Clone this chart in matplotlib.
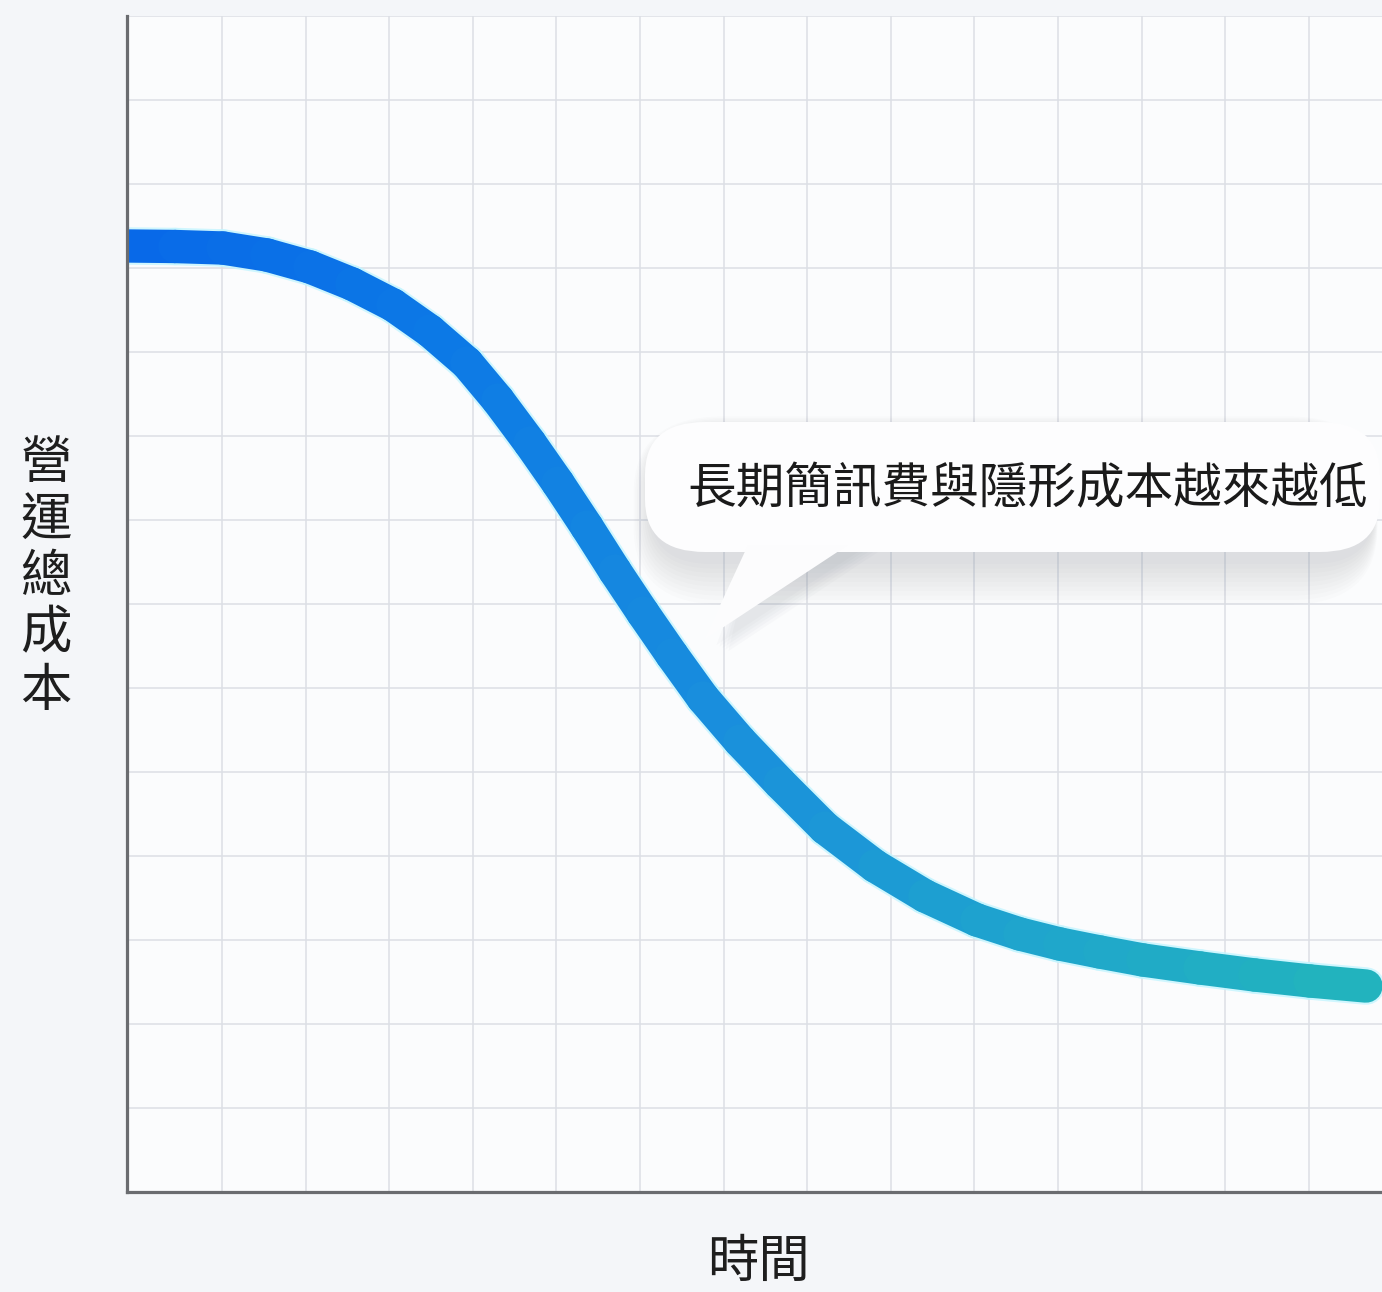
import numpy as np
import matplotlib
matplotlib.use("Agg")
import matplotlib.pyplot as plt
from matplotlib.collections import LineCollection
from matplotlib.colors import LinearSegmentedColormap
from matplotlib.patches import FancyBboxPatch, Polygon

plt.rcParams['font.family'] = ['Noto Sans CJK TC', 'DejaVu Sans']

# ---- data (grid units) ----
time_x = [-1.124, -0.562, 0.012, 0.538, 1.053, 1.555, 2.045, 2.488, 2.931, 3.301,
          3.684, 4.019, 4.366, 4.701, 5.036, 5.383, 5.754, 6.196, 6.675, 7.213,
          7.811, 8.409, 9.031, 9.545, 10.024, 10.502, 11.017, 11.699, 12.356,
          13.014, 13.684]
cost_y = [11.262, 11.256, 11.238, 11.155, 11.012, 10.810, 10.560, 10.250, 9.869, 9.429,
          8.917, 8.440, 7.917, 7.393, 6.893, 6.393, 5.881, 5.369, 4.869, 4.333,
          3.881, 3.524, 3.238, 3.071, 2.952, 2.857, 2.762, 2.667, 2.583,
          2.512, 2.452]
x_label = "時間"
y_label = "營運總成本"
callout_text = "長期簡訊費與隱形成本越來越低"

W, H = 1382, 1292
fig = plt.figure(figsize=(W / 100, H / 100), dpi=100, facecolor="#f4f6f9")

def fx(px):
    return px / W

def fy(py):
    return 1 - py / H

ax = fig.add_axes([fx(127), fy(1192), fx(1382) - fx(127), fy(16) - fy(1192)])
ax.set_facecolor("#fbfcfd")
ax.set_xlim(-1.136, 13.876)
ax.set_ylim(0, 14)
ax.set_xticks(np.arange(0, 14))
ax.set_yticks(np.arange(0, 15))
ax.tick_params(length=0, labelbottom=False, labelleft=False)
ax.grid(True, color="#dcdfe5", linewidth=1.1)
ax.set_axisbelow(True)
for s in ("top", "right"):
    ax.spines[s].set_visible(False)
for s in ("left", "bottom"):
    ax.spines[s].set_color("#6a6c70")
    ax.spines[s].set_linewidth(2.3)
    ax.spines[s].set_zorder(5)

# ---- gradient curve ----
cmap = LinearSegmentedColormap.from_list(
    "bt", ["#0868e8", "#0c78e6", "#1a90dc", "#1fa6cc", "#22b4bd"])
pts = np.column_stack([time_x, cost_y])
segs = np.stack([pts[:-1], pts[1:]], axis=1)
tpos = (np.array(time_x[:-1]) + np.array(time_x[1:])) / 2
tnorm = (tpos - time_x[0]) / (time_x[-1] - time_x[0])
glow = LineCollection(segs, colors="#c4f5ff", linewidths=27, capstyle="round",
                      joinstyle="round", alpha=0.8, zorder=3)
ax.add_collection(glow)
lc = LineCollection(segs, colors=cmap(tnorm), linewidths=24, capstyle="round",
                    joinstyle="round", zorder=4)
ax.add_collection(lc)

# ---- speech bubble (figure pixel layout) ----
bx0, by0, bx1, by1 = 645, 422, 1380, 552
r = 60
asp = H / W
for k in range(10):
    pad = 2 + 3 * k
    off = 10 + 1.5 * k
    sh = FancyBboxPatch((fx(bx0 + 6 - pad * 0.6), fy(by1 + off + pad)),
                        fx(bx1 - bx0 - 12 + 1.2 * pad * 0.6),
                        fy(by0) - fy(by1) + (pad * 2) / H,
                        boxstyle=f"round,pad=0,rounding_size={fx(r + pad)}",
                        transform=fig.transFigure, facecolor="#7d8590", alpha=0.022,
                        edgecolor="none", zorder=6, mutation_aspect=asp)
    fig.add_artist(sh)
for k in range(5):
    d = 4 + 5 * k
    tail_sh = Polygon([(fx(752), fy(548)), (fx(860 + d), fy(548)),
                       (fx(714 + d * 0.6), fy(644 + d * 0.3))],
                      closed=True, transform=fig.transFigure, facecolor="#7d8590",
                      alpha=0.035, edgecolor="none", zorder=6)
    fig.add_artist(tail_sh)
bubble = FancyBboxPatch((fx(bx0), fy(by1)), fx(bx1 - bx0), fy(by0) - fy(by1),
                        boxstyle=f"round,pad=0,rounding_size={fx(r)}",
                        transform=fig.transFigure, facecolor="#fdfdfe",
                        edgecolor="none", zorder=7, mutation_aspect=asp)
fig.add_artist(bubble)
tail = Polygon([(fx(748), fy(545)), (fx(848), fy(545)), (fx(704), fy(640))],
               closed=True, transform=fig.transFigure, facecolor="#fcfcfd",
               edgecolor="none", zorder=7)
fig.add_artist(tail)
fig.text(fx(1028), fy(490), callout_text, ha="center", va="center",
         fontsize=35, fontweight="medium", color="#1a1a1a", zorder=8)

# ---- axis labels ----
fig.text(fx(758), fy(1262), x_label, ha="center", va="center",
         fontsize=37, color="#1e1e1e")
for i, ch in enumerate(y_label):
    fig.text(fx(46), fy(463 + 57 * i), ch, ha="center", va="center",
             fontsize=37, color="#1e1e1e")

fig.savefig("out.png", dpi=100, facecolor=fig.get_facecolor())
